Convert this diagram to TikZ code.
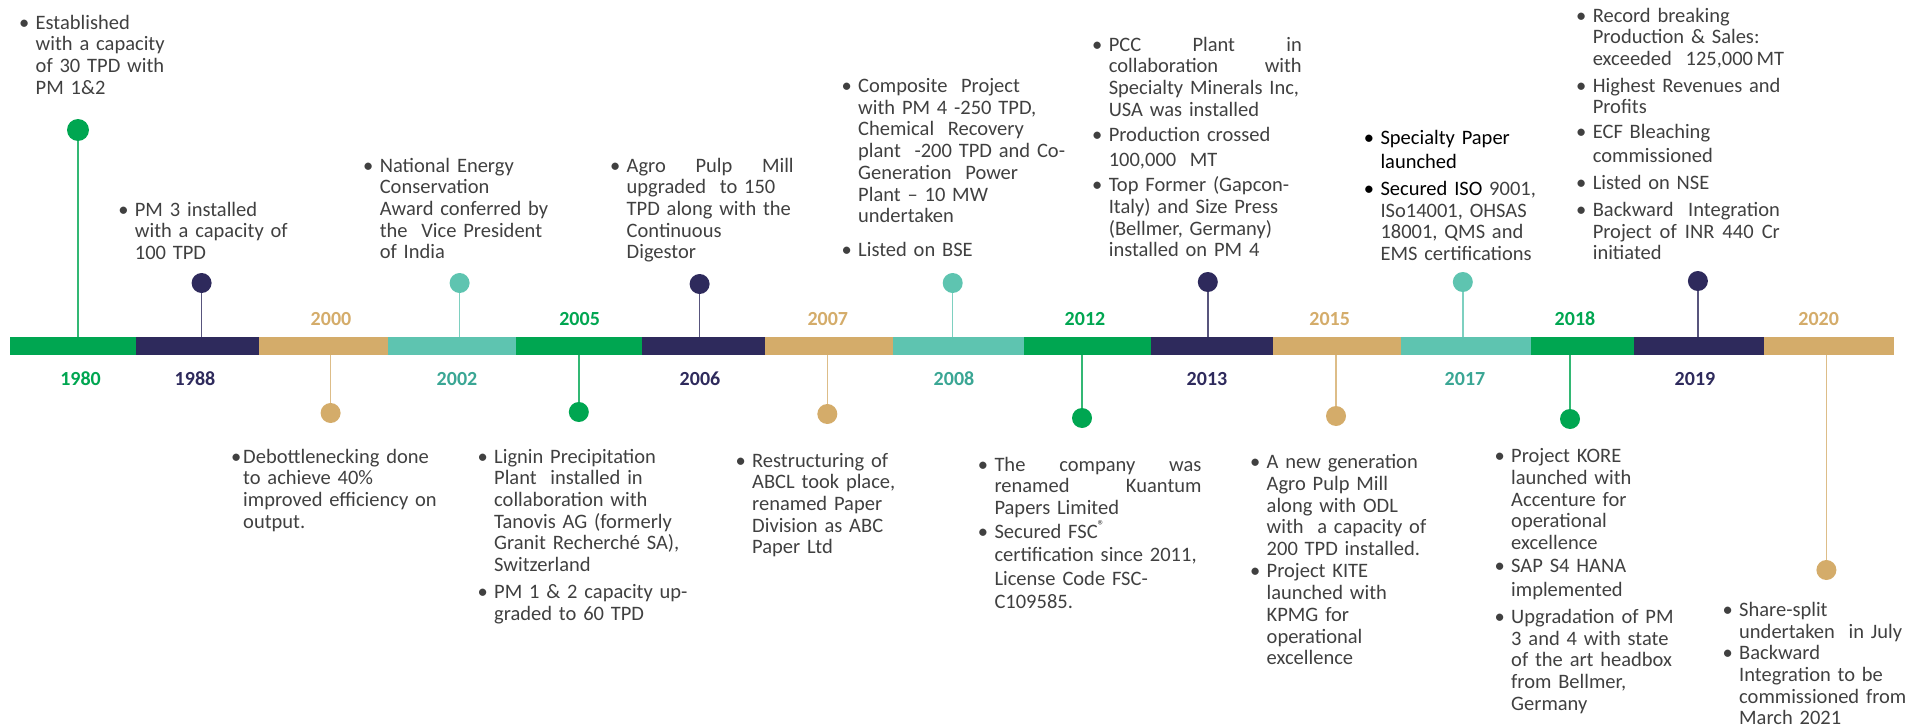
\documentclass[tikz,border=0pt]{standalone}
\usepackage{fontspec}
\setmainfont{Carlito}
\usetikzlibrary{positioning}
\definecolor{kgreen}{RGB}{0,166,81}
\definecolor{knavy}{RGB}{46,42,92}
\definecolor{ktan}{RGB}{212,172,106}
\definecolor{kteal}{RGB}{94,196,176}
\definecolor{ktealtext}{RGB}{58,166,148}
\definecolor{ktext}{RGB}{64,64,64}
\newlength{\bhang}\setlength{\bhang}{23pt}
\newlength{\jw}\setlength{\jw}{190pt}
% one bullet: the mark, then its lines in a top-aligned column
\newcommand{\bitem}[2][ktext]{\setlength{\lineskip}{0pt}\setlength{\parindent}{0pt}%
  \noindent\makebox[\bhang][c]{\textcolor{#1}{•}}%
  \begin{tabular}[t]{@{}l@{}}#2\end{tabular}\par}
\newcommand{\bgap}[1]{\par\vspace{#1}}
% a line spread to the full width (words split by \hfill)
\newcommand{\jl}[1]{\makebox[\jw][l]{#1}}
\tikzset{
  year/.style={font=\fontsize{20pt}{24pt}\selectfont\bfseries, inner sep=0pt, anchor=base},
  dot/.style={circle, inner sep=0pt, minimum size=#1},
  dot/.default=20pt,
  stem/.style={line width=1.4pt},
  note/.style={anchor=base west, inner sep=0pt, text=ktext,
    font=\fontsize{20.5pt}{21.7pt}\selectfont}
}

\begin{document}
\begin{tikzpicture}[x=1pt,y=-1pt]
\useasboundingbox (0,0) rectangle (1915,728);
% timeline bar
\foreach \a/\b/\c in {10/136/kgreen, 136/259/knavy, 259/388/ktan, 388/516/kteal,
  516/642/kgreen, 642/765/knavy, 765/893/ktan, 893/1024/kteal, 1024/1151/kgreen,
  1151/1273/knavy, 1273/1401/ktan, 1401/1531/kteal, 1531/1634/kgreen,
  1634/1764/knavy, 1764/1894/ktan}
  \fill[\c] (\a,337) rectangle (\b,355);
% pins above the bar
\foreach \yr/\x/\y/\c/\s in {1980/78/130/kgreen/22pt, 1988/201.6/283/knavy/20pt,
  2002/459.6/283/kteal/20pt, 2006/699.6/284/knavy/20pt, 2008/952.7/283/kteal/20pt,
  2013/1207.8/282/knavy/20pt, 2017/1462.8/282/kteal/20pt, 2019/1697.9/281/knavy/20pt}{
  \node[dot=\s, fill=\c] (d\yr) at (\x,\y) {};
  \coordinate (s\yr) at (\x,337);
  \draw[stem, \c!80] (d\yr) -- (s\yr);
}
% pins below the bar
\foreach \yr/\x/\y/\c in {2000/330.6/413/ktan, 2005/578.8/412/kgreen,
  2007/827.3/414/ktan, 2012/1082/418/kgreen, 2015/1336/416/ktan,
  2018/1570/419/kgreen, 2020/1826.4/570/ktan}{
  \node[dot, fill=\c] (d\yr) at (\x,\y) {};
  \coordinate (s\yr) at (\x,355);
  \draw[stem, \c!80] (s\yr) -- (d\yr);
}
% years
\foreach \yr/\x/\c in {1980/80.6/kgreen, 1988/195/knavy, 2002/457/ktealtext,
  2006/700/knavy, 2008/954/ktealtext, 2013/1207/knavy, 2017/1465/ktealtext,
  2019/1695/knavy}
  \node[year, text=\c] (y\yr) at (\x,385) {\yr};
\foreach \yr/\x/\c in {2000/331/ktan, 2005/579.6/kgreen, 2007/827.8/ktan,
  2012/1085/kgreen, 2015/1329.7/ktan, 2018/1575/kgreen, 2020/1818.7/ktan}
  \node[year, text=\c] (y\yr) at (\x,325.5) {\yr};

% notes above
\node[note, text width=180pt] (t1980) at (12.5,29) {\bitem{Established\\ with a capacity\\ of 30 TPD with\\ PM 1\&2}};
\node[note, text width=195pt] (t1988) at (111.7,216) {\bitem{PM 3 installed\\ with a capacity of\\ 100 TPD}};
\node[note, text width=215pt] (t2002) at (356.6,172) {\bitem{National Energy\\ Conservation\\ Award conferred by\\ the~ Vice President\\ of India}};
\node[note, text width=215pt] (t2006) at (603.5,172) {\setlength{\jw}{167pt}\bitem{\jl{Agro\hfill Pulp\hfill Mill}\\ upgraded~ to 150\\ TPD along with the\\ Continuous\\ Digestor}};
\node[note, text width=240pt] (t2008) at (835,92.5) {\bitem{Composite~ Project\\ with PM 4 -250 TPD,\\ Chemical~ Recovery\\ plant~ -200 TPD and Co-\\ Generation~ Power\\ Plant – 10 MW\\ undertaken}\bgap{12pt}\bitem{Listed on BSE}};
\node[note, text width=240pt] (t2013) at (1085.6,51) {\setlength{\jw}{193pt}\bitem{\jl{PCC\hfill Plant\hfill in}\\ \jl{collaboration\hfill with}\\ Specialty Minerals Inc,\\ USA was installed}\bgap{4pt}\bitem{Production crossed\\[2.6pt] 100,000~ MT}\bgap{4pt}\bitem{Top Former (Gapcon-\\ Italy) and Size Press\\ (Bellmer, Germany)\\ installed on PM 4}};
\node[note, text width=205pt] (t2017) at (1357.3,144.7) {\bitem[black]{\color{black}Specialty Paper\\[2.3pt] \color{black}launched}\bgap{5pt}\bitem[black]{\color{black}Secured ISO \color{ktext}9001,\\ ISo14001, OHSAS\\ 18001, QMS and\\ EMS certifications}};
\node[note, text width=230pt] (t2019) at (1569.6,22) {\setlength{\jw}{187pt}\bitem{Record breaking\\ Production \& Sales:\\ exceeded~ 125,000\,MT}\bgap{5pt}\bitem{Highest Revenues and\\ Profits}\bgap{3pt}\bitem{ECF Bleaching\\[2pt] commissioned}\bgap{6pt}\bitem{Listed on NSE}\bgap{5pt}\bitem{\jl{Backward\hfill Integration}\\ \jl{Project\hfill of\hfill INR\hfill 440\hfill Cr}\\ initiated}};

% notes below
\node[note, text width=240pt] (t2000) at (229,463) {\setlength{\bhang}{14pt}\bitem{Debottlenecking done\\ to achieve 40\%\\ improved efficiency on\\ output.}};
\node[note, text width=230pt] (t2005) at (471,463) {\bitem{Lignin Precipitation\\ Plant~ installed in\\ collaboration with\\ Tanovis AG (formerly\\ Granit Recherché SA),\\ Switzerland}\bgap{5.7pt}\bitem{PM 1 \& 2 capacity up-\\ graded to 60 TPD}};
\node[note, text width=190pt] (t2007) at (729,467) {\bitem{Restructuring of\\ ABCL took place,\\ renamed Paper\\ Division as ABC\\ Paper Ltd}};
\node[note, text width=250pt] (t2012) at (971.3,471) {\setlength{\jw}{207pt}\bitem{\jl{The\hfill company\hfill was}\\ \jl{renamed\hfill Kuantum}\\ Papers Limited}\fontsize{20.5pt}{23.5pt}\selectfont\bitem{Secured FSC\textsuperscript{\textregistered}\\ certification since 2011,\\ License Code FSC-\\ C109585.}};
\node[note, text width=210pt] (t2015) at (1243.5,468.7) {\bitem{A new generation\\ Agro Pulp Mill\\ along with ODL\\ with~ a capacity of\\ 200 TPD installed.}\bgap{0.7pt}\bitem{Project KITE\\ launched with\\ KPMG for\\ operational\\ excellence}};
\node[note, text width=210pt] (t2018) at (1488,462.7) {\bitem{Project KORE\\ launched with\\ Accenture for\\ operational\\ excellence}\bgap{1.3pt}\bitem{SAP S4 HANA\\[1.9pt] implemented}\bgap{5.7pt}\bitem{Upgradation of PM\\ 3 and 4 with state\\ of the art headbox\\ from Bellmer,\\ Germany}};
\node[note, text width=198pt] (t2020) at (1716,616.3) {\bitem{Share-split\\ undertaken~ in July}\bitem{Backward\\ Integration to be\\ commissioned from\\ March 2021}};
\end{tikzpicture}
\end{document}
